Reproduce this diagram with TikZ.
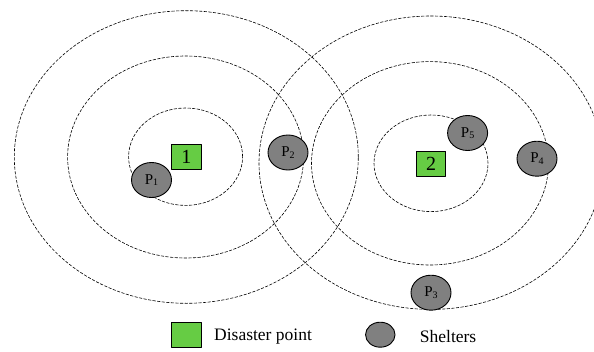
\documentclass[tikz,border=0pt]{standalone}
\usepackage{fontspec}
\setmainfont{Liberation Serif}
\usetikzlibrary{shapes}
\usetikzlibrary{positioning}
\definecolor{disgreen}{RGB}{102,204,68}
\definecolor{shelgrey}{RGB}{128,128,128}
\newcommand{\shel}[1]{P\raisebox{-0.2ex}{\fontsize{10}{10}\selectfont #1}}
\begin{document}
\begin{tikzpicture}[x=1pt,y=-1pt,line cap=round,line join=round,
 zone/.style={line width=0.6pt,dash pattern=on 2.8pt off 1.8pt},
 disaster/.style={draw,line width=0.9pt,fill=disgreen,minimum width=29.5pt,minimum height=25pt,inner sep=0pt,font=\fontsize{20}{20}\selectfont},
 shelter/.style={draw,ellipse,line width=0.9pt,fill=shelgrey,minimum width=40pt,minimum height=35pt,inner sep=0pt,font=\fontsize{15}{15}\selectfont},
 legtext/.style={anchor=west,inner sep=0pt,font=\fontsize{17.5}{17.5}\selectfont}]
\useasboundingbox (0,0) rectangle (594,351);
% zones round disaster point 1
\draw [zone] (185.6,156.7) ellipse (57pt and 48.7pt);
\draw [zone] (185.6,157) ellipse (118pt and 101pt);
\draw [zone] (186.3,157) ellipse (172pt and 146.3pt);
% zones round disaster point 2
\draw [zone] (431,163.3) ellipse (57pt and 48.3pt);
\draw [zone] (430,163.3) ellipse (118.5pt and 101.7pt);
\draw [zone] (431,162.7) ellipse (172pt and 146.7pt);
% disaster points
\node [disaster] (d1) at (186.3,157) {1};
\node [disaster] (d2) at (431,163.5) {2};
% shelters
\node [shelter] (p1) at (151.5,180) {\shel{1}};
\node [shelter] (p2) at (288,152.5) {\shel{2}};
\node [shelter] (p3) at (431,292.7) {\shel{3}};
\node [shelter] (p4) at (537,158.7) {\shel{4}};
\node [shelter] (p5) at (467.6,133) {\shel{5}};
% legend
\node [disaster] (legd) at (186.3,334.8) {};
\node [legtext] (legdt) at (214,337) {Disaster point};
\node [shelter,minimum width=29.5pt,minimum height=25pt] (legs) at (380.3,334.7) {};
\node [legtext] (legst) at (419.7,337) {Shelters};
\end{tikzpicture}
\end{document}
